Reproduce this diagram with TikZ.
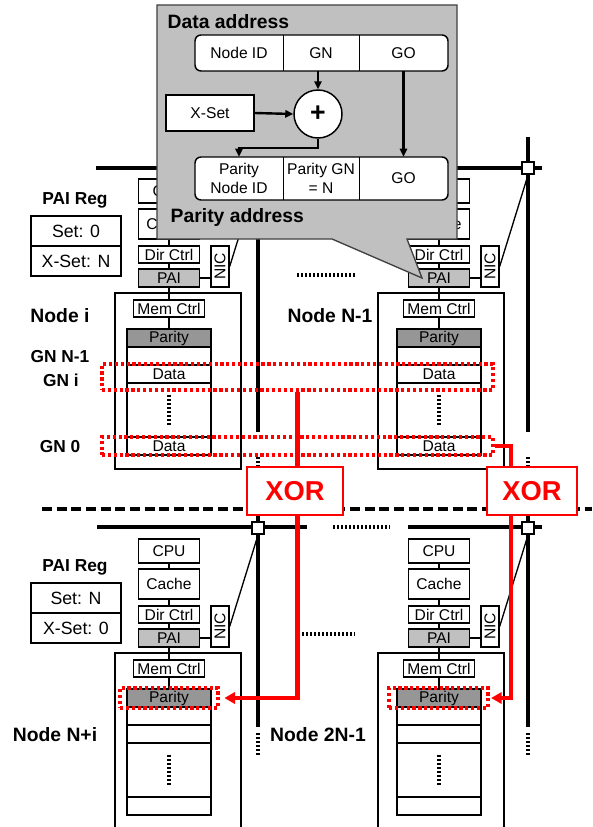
\documentclass[tikz,border=0pt]{standalone}
\usepackage{graphicx}
\usepackage{fontspec}
\setmainfont{Liberation Sans}
\usetikzlibrary{arrows.meta, positioning, calc}

\definecolor{paigray}{RGB}{192,192,192}
\definecolor{paritygray}{RGB}{150,150,150}
\definecolor{calloutgray}{RGB}{192,192,192}

\begin{document}
\begin{tikzpicture}[
    x=0.75pt, y=-0.75pt,
    font=\fontsize{11.7}{14}\selectfont,
    chip/.style={rectangle, draw, fill=white, line width=1pt, inner sep=0pt, minimum width=45.75pt},
    memrow/.style={rectangle, draw, fill=white, line width=1pt, inner sep=0pt, minimum width=63pt, minimum height=13.5pt},
    wire/.style={line width=1pt},
    bus/.style={line width=2.4pt},
    router/.style={rectangle, draw, fill=white, line width=1.6pt, minimum size=9pt, inner sep=0pt},
    dotline/.style={line width=2.6pt, dash pattern=on 1.6pt off 1.4pt},
    tag/.style={font=\bfseries\fontsize{14.5}{16}\selectfont},
    gntag/.style={font=\bfseries\fontsize{13}{15}\selectfont},
    regcell/.style={rectangle, draw, fill=white, line width=1pt, minimum width=67.5pt, minimum height=22.5pt, inner sep=0pt, font=\fontsize{13.3}{15}\selectfont},
    hilite/.style={rectangle, draw=red, line width=2.6pt, dash pattern=on 2.4pt off 2pt, inner sep=0pt},
    redwire/.style={draw=red, line width=3.2pt},
    xorbox/.style={rectangle, draw=red, fill=white, line width=1.2pt, text=red, minimum height=36pt, inner sep=0pt, font=\bfseries\fontsize{20.5}{22}\selectfont},
    field/.style={inner sep=0pt, align=center},
    arr/.style={-{Triangle[length=6pt,width=5.5pt]}, line width=1.8pt}
]
    \fill[white] (0,0) rectangle (592,827);
    \useasboundingbox (0,0) rectangle (592,827);

    % Separator between the two node groups
    \draw[line width=2.4pt, dash pattern=on 7.5pt off 3.5pt] (42,509) -- (592,509);

    % Interconnect
    \draw[bus] (96,168) -- (542,168);
    \draw[bus] (258,137) -- (258,432);
    \draw[bus] (528,137) -- (528,432);
    \draw[dotline] (258,457) -- (258,467);
    \draw[dotline] (528,457) -- (528,467);
    \draw[bus] (97,527) -- (307,527);
    \draw[dotline] (333,527) -- (390,527);
    \draw[bus] (408,527) -- (542,527);
    \draw[bus] (258,496) -- (258,727);
    \draw[bus] (528,496) -- (528,727);
    \draw[dotline] (258,733) -- (258,755);
    \draw[dotline] (528,733) -- (528,755);
    \draw[dotline] (297,275) -- (355,275);
    \draw[dotline] (302,634) -- (355,634);

    % Nodes: a = Node i, b = Node N-1, c = Node N+i, d = Node 2N-1
    \foreach \k/\dx/\dy/\ox/\dat in {a/0/0/0/Data, b/270/0/-7/Data, c/0/360/0/{}, d/270/360/-7/{}} {
        \begin{scope}[shift={(\dx,\dy)}]
            \node[rectangle, draw, line width=1pt, minimum width=94.5pt, minimum height=132pt, inner sep=0pt] (mem\k) at ({178+\ox},381) {};
            \node[chip, minimum height=18pt] (cpu\k) at (169,191) {CPU};
            \node[chip, minimum height=22.5pt] (cache\k) at (169,224) {Cache};
            \node[chip, minimum height=12.75pt] (dir\k) at (169,254.5) {Dir Ctrl};
            \node[chip, minimum height=13.5pt, fill=paigray] (pai\k) at (169,278) {PAI};
            \node[chip, minimum width=13.5pt, minimum height=30.75pt] (nic\k) at (220,266.5) {\rotatebox{90}{NIC}};
            \node[chip, minimum width=53.25pt, minimum height=12.75pt] (mc\k) at (169,308.5) {Mem Ctrl};
            \node[memrow, fill=paritygray] (par\k) at (169,338) {Parity};
            \node[memrow] (ra\k) at (169,356) {};
            \node[memrow] (rb\k) at (169,374) {\dat};
            \node[memrow, minimum height=40.5pt] (rc\k) at (169,410) {};
            \node[memrow] (rd\k) at (169,446) {\dat};
            \draw[dotline] (169,395) -- (169,425);
            \node[router] (rt\k) at (258,168) {};
            \draw[wire] (cpu\k) -- (cache\k) -- (dir\k) -- (pai\k) -- (mc\k) -- (par\k);
            \draw[wire] (pai\k) -- (pai\k -| nic\k.west);
            \draw[wire] (nic\k.east) -- (rt\k.south);
        \end{scope}
    }

    % PAI registers and labels
    \node[gntag] (rega) at (75,200) {PAI Reg};
    \node[regcell] (seta) at (76,231) {Set: 0};
    \node[regcell] (xseta) at (76,261) {X-Set: N};
    \node[gntag] (regc) at (75,567) {PAI Reg};
    \node[regcell] (setc) at (76,598) {Set: N};
    \node[regcell] (xsetc) at (76,628) {X-Set: 0};
    \node[tag] (namea) at (60,316) {Node i};
    \node[gntag] (gnlast) at (60,357) {GN N-1};
    \node[gntag] (gni) at (61,380) {GN i};
    \node[gntag] (gnzero) at (60,447) {GN 0};
    \node[tag] (nameb) at (330,316) {Node N-1};
    \node[tag] (namec) at (55,735) {Node N+i};
    \node[tag] (named) at (318,735) {Node 2N-1};

    % Parity groups
    \node[hilite, minimum width=293.25pt, minimum height=19.5pt] (hgni) at (297.5,377) {};
    \node[hilite, minimum width=293.25pt, minimum height=13.5pt] (hgn0) at (297.5,446) {};
    \node[hilite, minimum width=73.5pt, minimum height=15pt] (hpc) at (169,698) {};
    \node[hilite, minimum width=74.25pt, minimum height=15pt] (hpd) at (438.5,698) {};

    \node[xorbox, minimum width=72pt] (xorl) at (295,491) {XOR};
    \node[xorbox, minimum width=67.5pt] (xorr) at (532,491) {XOR};
    \coordinate (tapr) at (511,446);

    \draw[redwire] (hgni.south) -- (hgni.south |- xorl.north);
    \draw[redwire, -{Triangle[length=8pt,width=8.5pt]}] (hgni.south |- xorl.south) |- ([xshift=3.5pt]hpc.east);
    \draw[redwire] (hgn0.east) -- (tapr) -- (tapr |- xorr.north);
    \draw[redwire, -{Triangle[length=8pt,width=8.5pt]}] (tapr |- xorr.south) |- ([xshift=1pt]hpd.east);

    % Address translation callout
    \draw[draw=black!75, fill=calloutgray, line width=1pt] (157,5) -- (457,5) -- (457,239) -- (407,239) -- (422,278) -- (332,239) -- (157,239) -- cycle;
    \node[tag, anchor=west] (dtitle) at (163,22) {Data address};
    \draw[fill=white, line width=1.1pt, rounded corners=4.5pt] (195,35) rectangle (448,71);
    \node[field, minimum width=66pt, minimum height=27pt] (nid) at (239,53) {Node ID};
    \node[field, minimum width=57pt, minimum height=27pt] (gna) at (321,53) {GN};
    \node[field, minimum width=66.75pt, minimum height=27pt] (goa) at (403.5,53) {GO};
    \draw[wire] (nid.north east) -- (nid.south east);
    \draw[wire] (gna.north east) -- (gna.south east);

    \node[rectangle, draw, fill=white, line width=1.1pt, minimum width=66pt, minimum height=27pt, inner sep=0pt] (xs) at (210,113) {X-Set};
    \node[circle, draw, fill=white, line width=1.1pt, minimum size=36pt, inner sep=0pt, font=\bfseries\fontsize{20}{20}\selectfont] (plus) at (318,114) {+};

    \draw[fill=white, line width=1.1pt, rounded corners=4.5pt] (195,157) rectangle (448,200);
    \node[field, minimum width=66pt, minimum height=32.25pt] (pnid) at (239,178.5) {Parity\\Node ID};
    \node[field, minimum width=57pt, minimum height=32.25pt] (pgn) at (321,178.5) {Parity GN\\= N};
    \node[field, minimum width=66.75pt, minimum height=32.25pt] (gob) at (403.5,178.5) {GO};
    \draw[wire] (pnid.north east) -- (pnid.south east);
    \draw[wire] (pgn.north east) -- (pgn.south east);
    \node[tag, anchor=west] (ptitle) at (166,218) {Parity address};

    \draw[arr] (plus.north |- gna.south) -- (plus.north);
    \draw[arr] (xs.east) -- (plus.west);
    \draw[arr] (plus.south) -- ++(0,9) -| (pnid.north);
    \draw[arr] (goa.south) -- (gob.north);
\end{tikzpicture}
\end{document}
